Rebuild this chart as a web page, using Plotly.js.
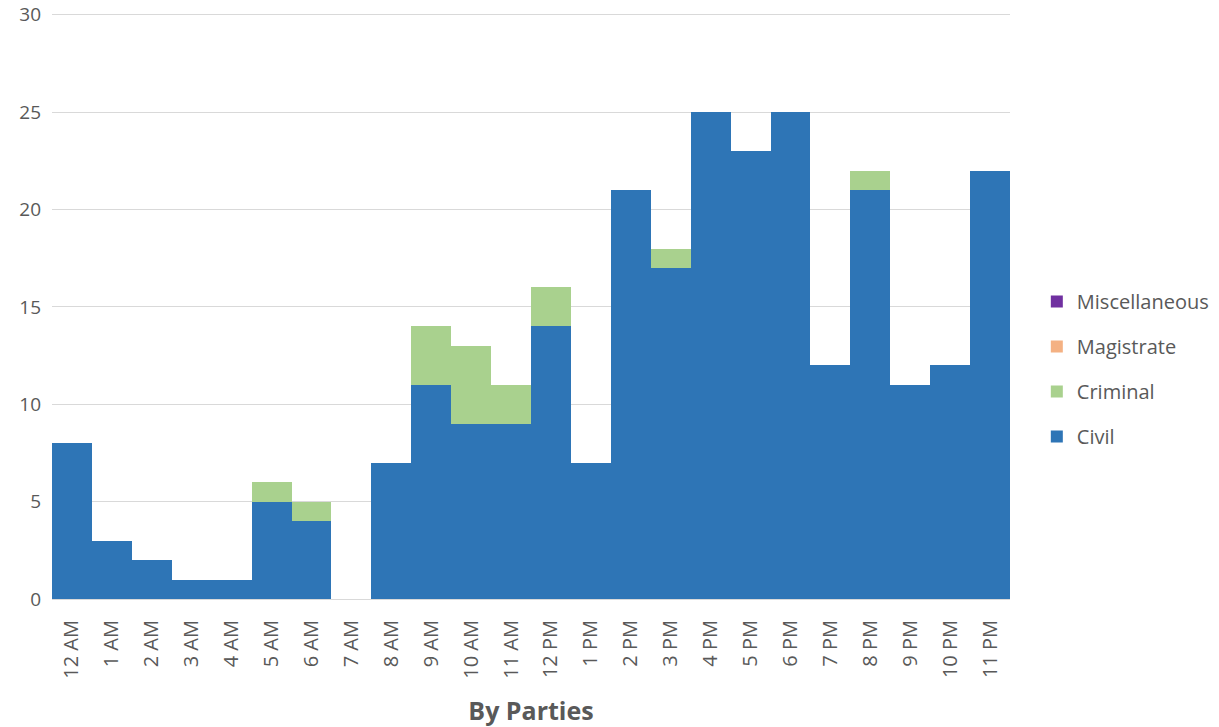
<!DOCTYPE html>
<html>
<head>
<meta charset="utf-8">
<script src="https://cdn.plot.ly/plotly-3.0.1.min.js"></script>
<style>body{margin:0;background:#fff}#chart{width:1219px;height:727px}</style>
</head>
<body>
<div id="chart"></div>
<script>
const hours = ["12 AM","1 AM","2 AM","3 AM","4 AM","5 AM","6 AM","7 AM","8 AM","9 AM","10 AM","11 AM","12 PM","1 PM","2 PM","3 PM","4 PM","5 PM","6 PM","7 PM","8 PM","9 PM","10 PM","11 PM"];
const civil = [8,3,2,1,1,5,4,0,7,11,9,9,14,7,21,17,25,23,25,12,21,11,12,22];
const criminal = [0,0,0,0,0,1,1,0,0,3,4,2,2,0,0,1,0,0,0,0,1,0,0,0];
const magistrate = [0,0,0,0,0,0,0,0,0,0,0,0,0,0,0,0,0,0,0,0,0,0,0,0];
const miscellaneous = [0,0,0,0,0,0,0,0,0,0,0,0,0,0,0,0,0,0,0,0,0,0,0,0];

const mk = (name, y, color, rank) => ({type:'bar', name, legendgroup:name, legendrank:rank, x:hours, y, marker:{color, line:{width:0}}, hoverinfo:'x+y+name'});
const data = [
  mk('Civil', civil, '#2E75B6', 4),
  mk('Criminal', criminal, '#A9D18E', 3),
  mk('Magistrate', magistrate, '#F4B183', 2),
  mk('Miscellaneous', miscellaneous, '#7030A0', 1)
];
const font = {family:'"Open Sans", "Liberation Sans", sans-serif', color:'#595959'};
const layout = {
  barmode:'stack', bargap:0,
  width:1219, height:727,
  margin:{l:52, r:209, t:9, b:128, autoexpand:false},
  paper_bgcolor:'#fff', plot_bgcolor:'#fff',
  font:font,
  xaxis:{type:'category', tickangle:-90, tickfont:{size:20, color:'#595959'}, showgrid:false, showline:true, linecolor:'#d9d9d9', linewidth:1, ticks:'', ticklabelstandoff:12, automargin:false,
    title:{text:'<b>By Parties</b>', font:{size:25, color:'#595959'}, standoff:26}},
  yaxis:{range:[0,30.3], tickvals:[0,5,10,15,20,25,30], gridcolor:'#d9d9d9', gridwidth:1, zeroline:false, tickfont:{size:19, color:'#595959'}, ticks:'', ticklabelstandoff:10, automargin:false},
  legend:{x:1.028, xanchor:'left', y:0.39, yanchor:'middle', traceorder:'grouped', font:{size:20, color:'#595959'}, tracegroupgap:16, itemwidth:30}
};
Plotly.newPlot('chart', data, layout, {displayModeBar:false});
</script>
</body>
</html>
